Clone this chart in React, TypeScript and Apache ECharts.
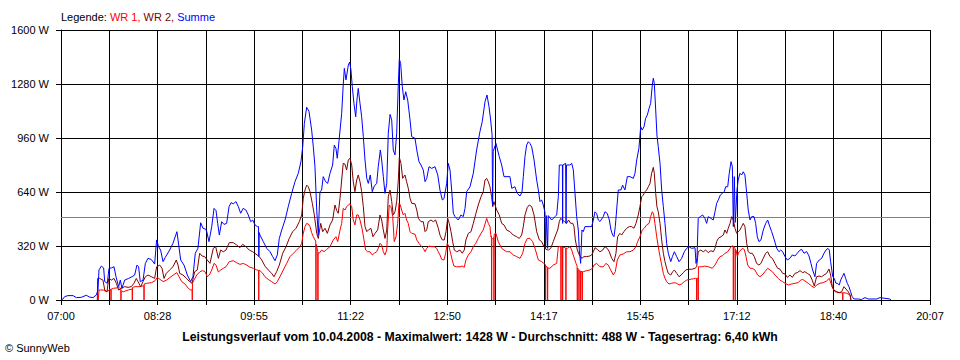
import React, { useEffect, useRef } from "react";
import * as echarts from "echarts";

// x values: minutes after 07:00; y values: watts
const tickLabels = ["07:00", "08:28", "09:55", "11:22", "12:50", "14:17", "15:45", "17:12", "18:40", "20:07"];
const spanMinutes = 787;
const averageW = 488;
const titleText = "Leistungsverlauf vom 10.04.2008 - Maximalwert: 1428 W - Durchschnitt: 488 W - Tagesertrag: 6,40 kWh";

const wr1: number[][] = [
  [33.8, 0], [34.4, 59], [38.3, 59], [41.4, 49], [44.4, 63], [45.1, 63], [45.3, 0], [45.5, 65], [47.4, 69], [51.9, 73],
  [54.1, 70], [54.3, 0], [54.5, 55], [56.4, 49], [60.9, 59], [64.4, 65], [64.6, 0], [64.8, 75], [67, 79], [71.5, 79],
  [75, 85], [75.2, 0], [75.4, 95], [77.6, 99], [82.1, 103], [85.1, 114], [87.2, 134], [89.7, 122], [92.6, 109], [95.7, 118],
  [98.7, 134], [101.7, 148], [104.8, 162], [106.9, 138], [109.3, 109], [112.3, 95], [115.3, 69], [117.5, 59],
  [118.7, 60], [118.9, 0], [119.1, 100], [120.4, 118], [122.9, 148], [125.9, 168], [128.3, 174], [130.4, 168], [132.5, 138],
  [134.3, 148], [136.5, 178], [138.6, 217], [140.4, 207], [142.5, 166], [144.6, 178], [147, 188], [149.4, 197], [152.4, 227],
  [156, 233], [159.1, 221], [162.1, 211], [165.1, 217], [168.2, 207], [171.2, 194], [174.2, 188], [177.2, 178],
  [178.9, 176], [179.1, 0], [179.3, 175], [180.2, 174], [182.7, 158], [184.7, 138], [187.7, 122], [190.8, 109], [193.8, 95],
  [195.9, 109], [198.3, 138], [201.3, 178], [204.4, 217], [207.4, 257], [210.4, 277], [213.4, 296], [216.4, 316], [218, 336],
  [219.4, 395], [221, 435], [222.5, 454], [224, 450], [225.5, 435], [227, 399], [228.5, 375], [230, 356],
  [230.7, 350], [230.9, 0], [231.1, 330], [232.5, 290], [232.7, 0], [232.9, 280], [233.9, 277], [236, 296], [238.2, 286],
  [240.6, 300], [243.6, 316], [246.6, 356], [249, 375], [250.6, 346], [252.7, 415], [254.2, 454], [255.6, 543], [257.2, 533],
  [258.7, 553], [260.2, 563], [261.7, 570], [263.3, 553], [264.7, 474], [266.2, 445], [267.8, 504], [269.2, 504], [270.8, 474],
  [272.9, 415], [274.4, 356], [275.9, 296], [277.7, 286], [279.8, 286], [281.9, 267], [283.7, 277], [285.9, 286], [287.3, 306],
  [288.9, 336], [290.4, 326], [291.9, 286], [293.4, 267], [295, 296], [295.8, 415], [297.3, 563], [298.8, 553], [300.4, 494],
  [301.8, 346], [303.4, 375], [304.9, 454], [306.1, 573], [307.3, 563], [308.5, 533], [310, 504], [311.5, 514], [313, 474],
  [314.5, 454], [316.1, 405], [317.6, 395], [320.6, 390], [322.2, 356], [324.2, 336], [326.6, 316], [328.1, 306], [329.7, 286],
  [331.2, 306], [333.3, 320], [335.7, 316], [338.1, 316], [340.2, 306], [341.7, 286], [343.2, 267], [344.8, 241], [346.8, 237],
  [348.4, 277], [349.8, 336], [351.4, 316], [353.2, 267], [354.3, 237], [355.9, 201], [358.4, 197], [361.3, 197], [363.4, 201],
  [365.2, 194], [366.7, 237], [368.9, 267], [371.3, 286], [373.4, 316], [375.6, 336], [377.9, 365], [380.4, 395], [382.4, 415],
  [384, 450], [385.5, 484], [387, 454], [388.5, 435], [389.4, 375], [389.8, 380], [390, 0], [390.2, 360], [391.9, 370],
  [392.1, 0], [392.3, 390], [393.9, 395], [396, 346], [399.1, 306], [401.2, 296], [403.6, 286], [406.6, 286], [409.6, 267],
  [412.7, 257], [415.7, 247], [418.1, 277], [420.2, 336], [422.3, 365], [424.7, 365], [427.1, 346], [429.3, 306], [432.3, 237],
  [435.3, 227], [437.4, 217], [438.7, 210], [438.9, 0], [439.1, 200], [440.5, 195], [440.7, 0], [440.9, 190], [442.8, 188],
  [445.8, 207], [448.9, 217], [450.4, 316], [452.6, 316], [452.8, 0], [453, 316], [454.1, 314], [454.3, 0], [454.5, 313],
  [455.5, 312], [457.1, 308], [457.3, 0], [457.5, 307], [458.5, 306], [461, 316], [462.5, 296], [463.9, 267], [466.4, 217],
  [467.4, 200], [467.6, 0], [467.8, 190], [468.9, 180], [469.1, 0], [469.3, 175], [470.4, 172], [470.6, 0], [470.8, 170],
  [471.9, 168], [472.1, 0], [472.3, 168], [473, 168], [476.1, 174], [479, 178], [481.4, 188], [482.7, 207], [485.1, 217],
  [488.1, 197], [491.1, 197], [493.5, 217], [495.6, 207], [497.8, 178], [500.2, 148], [502, 168], [503.8, 237], [506.2, 267],
  [509.2, 273], [512.3, 286], [515.3, 286], [518.3, 296], [520.7, 316], [522.2, 346], [524.3, 375], [526.4, 415], [528.2, 425],
  [530.4, 445], [532.6, 454], [534, 494], [535.5, 523], [536.7, 509], [537.9, 454], [539.5, 375], [540.9, 316], [542.5, 257],
  [544, 207], [545.5, 158], [547, 128], [548.5, 109], [550.6, 95], [553, 99], [555.5, 103], [557.6, 99], [559.7, 89],
  [562.1, 95], [564.5, 109], [566.6, 118], [569.6, 122], [572.6, 126], [574.7, 128], [575.5, 128], [575.7, 0], [575.9, 128],
  [576.9, 130], [577.1, 0], [577.3, 197], [578, 197], [580.2, 197], [583.2, 201], [586.2, 197], [589.8, 188], [592.3, 207],
  [594.7, 237], [596.8, 257], [599.2, 263], [601.3, 277], [603.8, 286], [605.9, 306], [607.4, 320], [608.7, 320], [608.9, 0],
  [609.1, 318], [610.4, 310], [610.6, 0], [610.8, 300], [611.3, 296], [612.5, 257], [614, 286], [615.8, 296], [617, 306],
  [618.8, 300], [620.4, 257], [621.9, 207], [624, 188], [626, 188], [628.5, 178], [630.9, 148], [633, 138], [635.1, 148],
  [637.5, 168], [640, 188], [642.1, 178], [644.2, 168], [646.6, 148], [649.6, 128], [651.1, 118], [653.5, 109], [655.7, 99],
  [658.7, 89], [661.7, 95], [664.7, 99], [667.7, 103], [669.8, 118], [671.7, 122], [673.7, 113], [676.7, 99], [679.8, 83],
  [682.2, 73], [684.3, 89], [687.3, 99], [690.3, 103], [693.4, 113], [695.8, 128], [697.3, 99], [698.9, 69], [701, 49],
  [704, 45], [707, 43], [707.8, 43], [708, 0], [708.2, 43], [709.1, 43], [711.5, 40], [714.6, 30], [715.4, 0]
];

const wr2: number[][] = [
  [32.9, 0], [33.2, 128], [35, 128], [38, 118], [39.6, 59], [41.7, 49], [43.2, 128], [45.6, 118], [48, 128], [50.1, 99],
  [52.2, 59], [54.6, 69], [57.7, 79], [60.7, 75], [63.7, 79], [66.1, 99], [68.2, 128], [69.7, 109], [72.2, 79], [74.3, 109],
  [76.4, 138], [78.8, 148], [81.8, 138], [84.8, 128], [86.6, 197], [89.4, 207], [91.5, 188], [93.3, 128], [95.4, 158],
  [98.4, 178], [101.4, 197], [104.4, 237], [106, 207], [107.5, 158], [110.5, 148], [113.5, 128], [116.5, 109], [118.6, 99],
  [121.1, 168], [123.4, 178], [125.6, 277], [127.7, 261], [130.1, 257], [132, 241], [134.9, 217], [137.9, 306], [140.1, 316],
  [142.5, 247], [144.6, 296], [147, 286], [149.4, 296], [152.4, 340], [156, 340], [159.1, 326], [162.1, 310], [164.5, 330],
  [167.5, 316], [170.5, 296], [173.6, 286], [176.6, 272], [179.6, 257], [181.8, 237], [184.7, 201], [187.7, 178], [190.8, 158],
  [192.9, 138], [195.3, 168], [197.7, 207], [200.8, 277], [203.8, 316], [206.7, 365], [209.8, 405], [212.8, 425], [215.8, 464],
  [218, 504], [219.4, 603], [221, 652], [222.5, 681], [224, 671], [225.5, 642], [227.6, 573], [229.4, 504], [231.6, 395],
  [233, 365], [235.2, 454], [237, 405], [239.1, 425], [241.2, 395], [243.6, 445], [246, 474], [248.1, 563], [249.7, 530],
  [251.1, 514], [252.7, 603], [254.2, 711], [255.6, 810], [257.2, 805], [258.7, 770], [260.2, 830], [261.7, 840], [263.3, 800],
  [264.7, 701], [266.2, 642], [267.8, 711], [269.2, 741], [270.8, 701], [272.3, 642], [273.8, 553], [275.3, 435], [276.9, 405],
  [278.3, 415], [280.7, 425], [282.5, 375], [284.4, 395], [286.8, 415], [288.9, 504], [290.4, 474], [291.9, 415], [293.4, 365],
  [295, 415], [296.4, 612], [298, 652], [299.5, 583], [300.9, 504], [302.5, 523], [304, 583], [305.5, 711], [306.4, 845],
  [307.9, 810], [309.4, 721], [311.5, 741], [313, 701], [314.5, 662], [316.1, 603], [317.6, 573], [320.6, 570], [322.2, 533],
  [323.6, 484], [326, 464], [328.1, 464], [329.7, 405], [331.2, 415], [332.6, 464], [335.1, 474], [337.2, 464], [339.3, 474],
  [341.7, 425], [343.2, 385], [345.3, 356], [347.1, 356], [348.7, 405], [350.2, 484], [351.6, 454], [353.2, 405], [354.7, 346],
  [356.2, 296], [358.4, 286], [361.3, 296], [363.4, 277], [365.2, 296], [366.7, 356], [368.9, 395], [371.3, 405], [373.4, 454],
  [375.8, 514], [377.9, 563], [380.4, 612], [382.4, 642], [384, 711], [385.5, 721], [387, 701], [388.5, 671], [390, 612],
  [391, 553], [392.1, 583], [394.6, 533], [396.9, 504], [399.1, 454], [401.2, 445], [403.6, 415], [406.6, 405], [409.6, 385],
  [412.7, 375], [415, 365], [417.2, 385], [418.7, 435], [420.2, 504], [422.3, 549], [424.1, 563], [426.3, 553], [428.4, 504],
  [430.8, 405], [433.2, 356], [435.3, 346], [437.4, 316], [439.2, 300], [441.3, 296], [443.5, 306], [445.8, 346], [448, 385],
  [449.8, 415], [451.3, 464], [452.5, 484], [454.3, 474], [456.1, 464], [457.9, 454], [459.7, 474], [461.6, 454], [463.4, 455],
  [464.6, 435], [465.8, 356], [467.6, 296], [469.4, 267], [471.6, 247], [473.6, 257], [476.1, 257], [479, 261], [480.6, 267],
  [482.1, 286], [483.6, 310], [485.7, 300], [488.1, 286], [490.6, 296], [492.6, 316], [494.7, 306], [496.6, 286], [498.7, 247],
  [500.8, 227], [502.6, 277], [504.1, 375], [506.2, 395], [507.7, 385], [509.8, 405], [512.2, 425], [514.7, 435], [516.8, 435],
  [518.9, 425], [520.7, 454], [522.8, 504], [524.3, 553], [525.9, 612], [527.3, 622], [528.9, 642], [530.4, 652], [531.9, 671],
  [533.4, 691], [534.9, 751], [536.4, 786], [537.3, 751], [538.6, 632], [539.7, 553], [540.9, 523], [542.5, 454], [544, 356],
  [545.5, 277], [547, 227], [548.5, 188], [550, 158], [552.2, 148], [554, 168], [555.5, 178], [557.6, 158], [559.7, 138],
  [561.6, 148], [563.6, 162], [565.8, 178], [568.2, 182], [571.2, 182], [574.2, 188], [575.7, 197], [577.1, 286], [579.3, 296],
  [581.7, 286], [583.8, 296], [586.2, 281], [588.6, 292], [590.7, 286], [592.3, 306], [593.8, 346], [595.3, 365], [597.7, 375],
  [599.8, 385], [601.3, 415], [602.9, 395], [604.3, 425], [605.9, 454], [607.4, 494], [608.9, 474], [610.4, 425], [611.9, 395],
  [613.3, 405], [614.9, 415], [616.4, 435], [617.9, 454], [619.4, 435], [621, 336], [622.4, 286], [624, 277], [626, 277],
  [627.9, 257], [630, 217], [632.1, 207], [633.9, 217], [636, 247], [638.2, 277], [640, 286], [642.1, 257], [644.2, 247],
  [646.6, 217], [649, 188], [651.1, 183], [653.5, 158], [655.7, 154], [657.8, 134], [660.2, 148], [662.3, 134], [664.7, 158],
  [666.8, 162], [669.3, 174], [671.7, 162], [673.7, 168], [675.8, 158], [678.3, 148], [680.3, 118], [682.2, 83], [684.3, 138],
  [686.7, 142], [688.9, 138], [691, 148], [693.4, 158], [695.5, 184], [697, 148], [698.5, 79], [700, 59], [702.5, 49],
  [704.8, 43], [707, 49], [709.1, 79], [710.9, 65], [713, 49], [714.6, 30], [715.4, 0]
];

const summe: number[][] = [
  [0, 0], [1.8, 6], [3.3, 20], [6.3, 26], [10.9, 26], [13.9, 14], [18.4, 16], [22.9, 28], [26, 17], [29, 14], [32, 30],
  [33.5, 59], [34.4, 178], [36.5, 201], [38.6, 190], [39.6, 109], [41.9, 99], [43.5, 188], [45.6, 190], [48, 197], [49.8, 138],
  [52.2, 79], [53.7, 118], [55.2, 69], [57.7, 118], [61.3, 128], [64.3, 138], [66.7, 148], [68.8, 207], [70.3, 197], [71.8, 108],
  [74.3, 118], [76.4, 217], [78.8, 247], [81.8, 240], [84.8, 213], [86.6, 356], [88.4, 316], [90.2, 296], [92.4, 227],
  [94.5, 253], [98.4, 296], [101.4, 336], [105, 405], [106.6, 326], [108.4, 237], [111.4, 207], [114.4, 148], [117.4, 109],
  [119.5, 138], [121.6, 277], [124, 306], [126.5, 458], [128.6, 425], [131, 420], [132, 405], [134, 346], [136.5, 435],
  [138.6, 543], [140.4, 530], [141.9, 454], [143.4, 385], [145.5, 464], [147.6, 448], [150, 454], [152.2, 553], [154, 577],
  [156, 570], [158.5, 583], [160.6, 553], [162.7, 514], [165, 543], [167.5, 533], [169.6, 504], [171.8, 464], [173.6, 474],
  [175.7, 445], [177.8, 435], [178.9, 435], [179.2, 257], [179.5, 400], [180.2, 385], [183.2, 346], [186.3, 306], [189.3, 286],
  [191.7, 257], [193.8, 233], [195.9, 267], [197.7, 365], [199.9, 415], [202.9, 474], [205.8, 553], [208.9, 632], [211.9, 701],
  [214.9, 751], [217.3, 820], [218.9, 908], [220.4, 1047], [222.5, 1142], [224.6, 1118], [227, 1007], [228.5, 908], [230, 790],
  [231.6, 533], [233, 385], [234.5, 642], [236, 650], [237.5, 731], [239.7, 701], [241.5, 691], [243.6, 750], [246, 800],
  [247.5, 918], [249, 898], [250.2, 840], [252, 958], [254.2, 1106], [255.6, 1274], [256.6, 1373], [258.1, 1304],
  [260.2, 1392], [261.4, 1410], [262.6, 1363], [263.8, 1264], [265.3, 1165], [266.9, 1086], [268, 1185], [269.2, 1254],
  [270.8, 1165], [272.3, 1086], [273.8, 968], [275.3, 830], [276.9, 721], [278.3, 691], [280.1, 741], [281.9, 642], [283.7, 675],
  [285.9, 691], [287.3, 790], [289.2, 889], [290.4, 830], [291.9, 731], [293.4, 632], [295, 691], [296.4, 988], [298, 1100],
  [299.5, 1067], [300.9, 889], [302.5, 860], [304, 988], [305.5, 1284], [306.4, 1428], [307.6, 1402], [309.1, 1264],
  [310.6, 1185], [312.2, 1234], [314, 1185], [316.1, 1067], [317.6, 968], [320.6, 958], [322.2, 889], [324.2, 820], [326, 800],
  [328.1, 770], [329.7, 701], [331.2, 720], [333.3, 790], [335.7, 780], [338.7, 790], [341.2, 741], [343.2, 652], [345.3, 593],
  [346.8, 600], [349.3, 691], [350.7, 810], [352.3, 770], [353.8, 652], [355.3, 514], [356.8, 494], [359.8, 474], [362.2, 504],
  [364.3, 494], [365.9, 543], [367.4, 642], [370.4, 671], [373.4, 751], [376.4, 889], [379.4, 997], [381.5, 1057], [384, 1175],
  [385.8, 1215], [387.6, 1146], [389.1, 1067], [390.4, 980], [390.9, 560], [391.4, 880], [393.9, 928], [396.9, 850],
  [399.1, 800], [401.2, 731], [406.6, 731], [408.2, 662], [411.1, 671], [413.2, 632], [415.7, 616], [417.5, 640], [418.7, 731],
  [420.2, 850], [421.7, 918], [423.2, 938], [424.7, 928], [426.3, 908], [428.4, 830], [430.8, 711], [432.3, 652], [433.8, 583],
  [435.3, 593], [436.8, 563], [438.3, 520], [438.9, 306], [439.5, 500], [440.7, 306], [441.3, 500], [444.4, 474], [447.4, 494],
  [448.9, 504], [450.4, 612], [451.3, 800], [453.4, 800], [454.1, 800], [454.3, 454], [454.5, 800], [457, 810], [457.4, 454],
  [457.8, 800], [460.9, 800], [462.5, 810], [464, 770], [465.5, 632], [467, 494], [468.5, 415], [469.4, 296], [470.6, 217],
  [471.8, 415], [473, 405], [474.5, 435], [479, 435], [480.6, 435], [482.1, 474], [483.6, 523], [485.1, 513], [486.6, 474],
  [488.1, 465], [491.1, 494], [492.6, 523], [494.7, 513], [496.6, 474], [498.1, 415], [499.6, 385], [500.8, 375], [502, 435],
  [503.2, 533], [504.7, 652], [507.1, 652], [508.6, 681], [510.7, 652], [512.9, 731], [515.3, 731], [518.3, 721], [519.8, 750],
  [521.4, 830], [523.4, 899], [525, 1027], [526.4, 1007], [528, 1027], [529.5, 1077], [531, 1096], [532.6, 1136], [534, 1165],
  [535.5, 1274], [536.4, 1314], [537.3, 1284], [538.6, 1126], [539.7, 978], [540.9, 909], [542.5, 810], [544, 652], [545.5, 553],
  [547, 454], [548.5, 336], [550, 277], [552.2, 227], [553.7, 257], [555.5, 286], [557.6, 257], [559.7, 227], [562.1, 247],
  [564.5, 286], [566.6, 306], [568.7, 316], [571.2, 306], [574.2, 310], [575.1, 217], [576, 250], [577.1, 484], [578.9, 494],
  [581.1, 504], [583.2, 484], [584.7, 454], [586.2, 494], [588.6, 484], [590.7, 474], [592.3, 523], [593.8, 573], [595.3, 593],
  [597.1, 622], [598.9, 632], [600.7, 642], [601.9, 671], [603.8, 671], [605.2, 751], [606.8, 820], [608, 790], [608.9, 435],
  [609.8, 731], [610.6, 460], [612.2, 652], [613.3, 711], [614.9, 751], [616.4, 741], [617.9, 760], [619.4, 741], [621, 632],
  [622.4, 533], [624, 474], [625.5, 494], [627.6, 494], [629.1, 454], [630.6, 375], [632.1, 346], [633.9, 356], [636, 415],
  [638.2, 454], [640, 474], [641.4, 445], [643.6, 405], [646, 356], [648.2, 306], [650.2, 286], [651.8, 296], [653.5, 287],
  [655.7, 257], [657.8, 237], [660.2, 247], [662.3, 267], [664.7, 261], [666.8, 277], [669.3, 296], [670.8, 300], [672.9, 277],
  [675.3, 287], [677.4, 261], [679.2, 217], [680.7, 178], [682.8, 138], [684.3, 217], [686.7, 237], [688.9, 247], [691, 277],
  [692.8, 296], [694.6, 306], [695.8, 296], [697, 227], [698.9, 138], [700.3, 128], [701.8, 99], [703, 99], [704.8, 89],
  [706.1, 118], [707.6, 138], [709.1, 158], [710.6, 128], [712.1, 99], [713.6, 79], [715.1, 49], [716.5, 20], [718.1, 6],
  [722, 6], [725, 3], [728.1, 14], [731.1, 6], [738.7, 6], [741.7, 14], [746.2, 10], [750.7, 6], [751.6, 0]
];

const FONT = "'Liberation Sans', Arial, sans-serif";

export default function App() {
  const ref = useRef<HTMLDivElement>(null);
  useEffect(() => {
    if (!ref.current) return;
    const chart = echarts.init(ref.current, undefined, { renderer: "svg" });
    const step = spanMinutes / 18;
    chart.setOption({
      animation: false,
      backgroundColor: "#ffffff",
      textStyle: { fontFamily: FONT },
      grid: { left: 61, right: 30, top: 30, bottom: 60, containLabel: false },
      title: [
        {
          left: 61,
          top: 10,
          padding: 0,
          text: "{k|Legende:} {a|WR 1,} {b|WR 2,} {c|Summe}",
          textStyle: {
            fontFamily: FONT,
            fontSize: 11,
            fontWeight: "normal",
            lineHeight: 14,
            rich: {
              k: { color: "#000000", fontSize: 11, fontFamily: FONT },
              a: { color: "#ff0000", fontSize: 11, fontFamily: FONT },
              b: { color: "#800000", fontSize: 11, fontFamily: FONT },
              c: { color: "#0000ff", fontSize: 11, fontFamily: FONT }
            }
          }
        },
        {
          left: "center",
          top: 330,
          padding: 0,
          text: titleText,
          textStyle: { fontFamily: FONT, fontSize: 12.25, fontWeight: "bold", color: "#000", lineHeight: 14 }
        },
        {
          left: 5,
          top: 341,
          padding: 0,
          text: "© SunnyWeb",
          textStyle: { fontFamily: FONT, fontSize: 11, fontWeight: "normal", color: "#000", lineHeight: 14 }
        }
      ],
      xAxis: {
        type: "value",
        min: 0,
        max: spanMinutes,
        interval: step,
        axisLine: { show: true, lineStyle: { color: "#000", width: 1 } },
        axisTick: { show: true, inside: false, length: 5, lineStyle: { color: "#000" } },
        splitLine: { show: true, lineStyle: { color: "#000", width: 1 } },
        axisLabel: {
          color: "#000",
          fontSize: 11,
          fontFamily: FONT,
          margin: 10,
          showMinLabel: true,
          showMaxLabel: true,
          formatter: (v: number) => {
            const idx = Math.round(v / step);
            return idx % 2 === 0 ? tickLabels[idx / 2] ?? "" : "";
          }
        }
      },
      yAxis: {
        type: "value",
        min: 0,
        max: 1600,
        interval: 320,
        axisLine: { show: true, lineStyle: { color: "#000", width: 1 } },
        axisTick: { show: true, inside: false, length: 5, lineStyle: { color: "#000" } },
        splitLine: { show: true, lineStyle: { color: "#000", width: 1 } },
        axisLabel: {
          color: "#000",
          fontSize: 11,
          fontFamily: FONT,
          margin: 12,
          formatter: (v: number) => `${v} W`
        }
      },
      series: [
        {
          name: "WR 1",
          type: "line",
          data: wr1,
          showSymbol: false,
          symbol: "none",
          lineStyle: { color: "#ff0000", width: 1 },
          itemStyle: { color: "#ff0000" },
          z: 3
        },
        {
          name: "WR 2",
          type: "line",
          data: wr2,
          showSymbol: false,
          symbol: "none",
          lineStyle: { color: "#800000", width: 1 },
          itemStyle: { color: "#800000" },
          z: 4
        },
        {
          name: "Summe",
          type: "line",
          data: summe,
          showSymbol: false,
          symbol: "none",
          lineStyle: { color: "#0000ff", width: 1 },
          itemStyle: { color: "#0000ff" },
          z: 5,
          markLine: {
            silent: true,
            symbol: "none",
            label: { show: false },
            lineStyle: { color: "#808080", type: "solid", width: 1 },
            data: [{ yAxis: averageW }],
            z: 2
          }
        }
      ]
    });
    return () => chart.dispose();
  }, []);
  return (
    <div
      ref={ref}
      style={{ position: "absolute", left: 0, top: 0, width: 960, height: 360, background: "#fff" }}
    />
  );
}
